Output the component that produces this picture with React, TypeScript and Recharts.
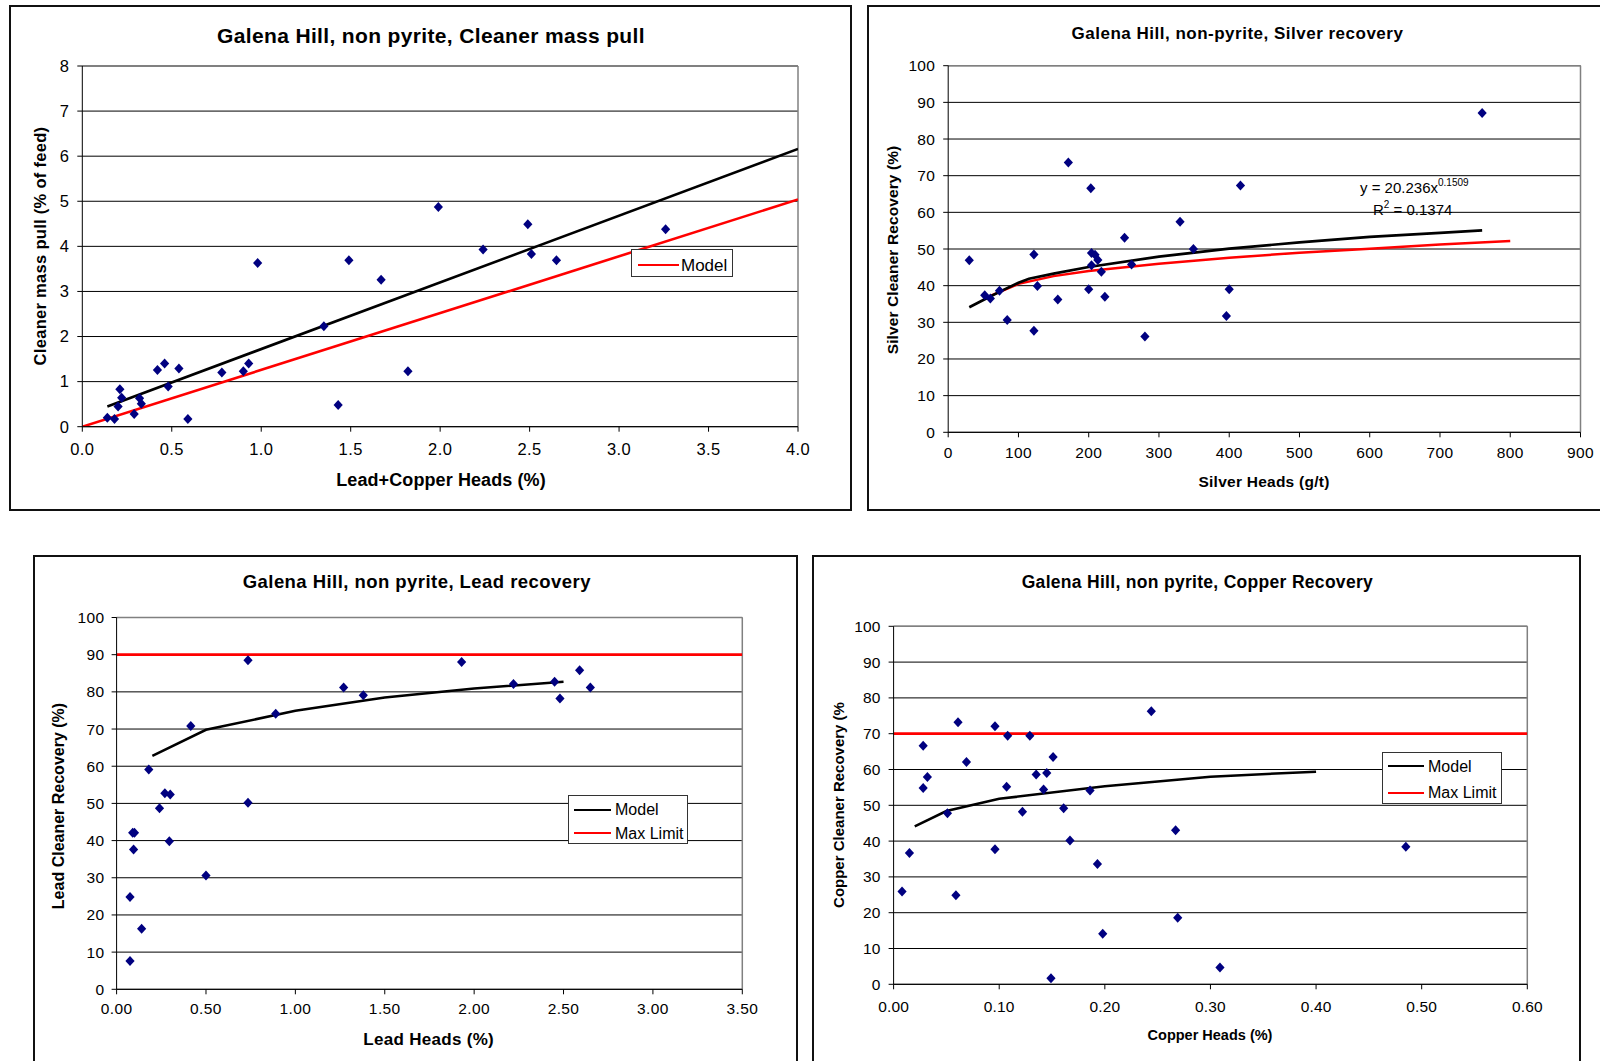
import React from 'react';
import { ComposedChart, Scatter, Line, XAxis, YAxis, CartesianGrid, ReferenceLine } from 'recharts';

const FONT = '"Liberation Sans", Arial, Helvetica, sans-serif';
const NAVY = '#000080';

// Cleaner mass pull vs Lead+Copper heads
const massHeads = [0.14, 0.18, 0.2, 0.21, 0.22, 0.29, 0.32, 0.33, 0.42, 0.46, 0.48, 0.54, 0.59, 0.78, 0.9, 0.93, 0.98, 1.35, 1.43, 1.49, 1.67, 1.82, 1.99, 2.24, 2.49, 2.51, 2.65, 3.26];
const massPull = [0.2, 0.17, 0.45, 0.83, 0.64, 0.28, 0.63, 0.51, 1.26, 1.4, 0.89, 1.29, 0.17, 1.2, 1.23, 1.4, 3.63, 2.23, 0.48, 3.69, 3.26, 1.23, 4.87, 3.93, 4.49, 3.83, 3.69, 4.38];
const massTrendX = [0.14, 4.0];
const massTrendY = [0.45, 6.16];
const massModelX = [0, 4.0];
const massModelY = [0, 5.04];
const massXTicks = [0, 0.5, 1, 1.5, 2, 2.5, 3, 3.5, 4];
const massYTicks = [0, 1, 2, 3, 4, 5, 6, 7, 8];

// Silver recovery vs silver heads
const agHeads = [30, 52, 60, 73, 84, 122, 122, 127, 156, 171, 200, 203, 204, 204, 209, 213, 218, 223, 251, 261, 280, 330, 349, 396, 400, 416, 760];
const agRec = [46.9, 37.4, 36.5, 38.6, 30.6, 48.5, 27.7, 39.9, 36.2, 73.6, 39.0, 66.6, 45.6, 48.9, 48.4, 47.0, 43.8, 37.0, 53.1, 45.8, 26.1, 57.4, 50.0, 31.7, 39.0, 67.3, 87.1];
const agTrendX = [30, 50, 75, 100, 115, 150, 200, 300, 400, 500, 600, 700, 760];
const agTrendY = [34.1, 36.1, 38.5, 40.8, 41.9, 43.3, 45.1, 47.9, 50.1, 51.8, 53.3, 54.4, 55.1];
const agModelX = [60, 100, 150, 200, 300, 400, 500, 600, 700, 800];
const agModelY = [37.2, 40.5, 42.6, 44.0, 46.0, 47.6, 49.0, 50.1, 51.2, 52.2];
const agXTicks = [0, 100, 200, 300, 400, 500, 600, 700, 800, 900];
const pctTicks = [0, 10, 20, 30, 40, 50, 60, 70, 80, 90, 100];

// Lead recovery vs lead heads
const pbHeads = [0.075, 0.075, 0.14, 0.09, 0.1, 0.095, 0.18, 0.24, 0.27, 0.3, 0.295, 0.415, 0.5, 0.735, 0.735, 0.89, 1.27, 1.38, 1.93, 2.22, 2.45, 2.48, 2.59, 2.65];
const pbRec = [7.6, 24.8, 16.3, 42.1, 42.1, 37.6, 59.1, 48.7, 52.7, 52.4, 39.8, 70.8, 30.6, 88.5, 50.2, 74.1, 81.2, 79.1, 88.0, 82.1, 82.7, 78.2, 85.8, 81.2];
const pbModelX = [0.2, 0.5, 1.0, 1.5, 2.0, 2.5];
const pbModelY = [62.8, 69.8, 74.9, 78.5, 80.9, 82.7];
const pbMaxX = [0, 3.5];
const pbMaxY = [90, 90];
const pbXTicks = [0, 0.5, 1, 1.5, 2, 2.5, 3, 3.5];

// Copper recovery vs copper heads
const cuHeads = [0.008, 0.015, 0.028, 0.028, 0.032, 0.051, 0.059, 0.061, 0.069, 0.096, 0.096, 0.107, 0.108, 0.122, 0.129, 0.135, 0.142, 0.145, 0.151, 0.149, 0.161, 0.167, 0.186, 0.193, 0.198, 0.244, 0.267, 0.269, 0.309, 0.485];
const cuRec = [25.9, 36.7, 66.6, 54.8, 57.9, 47.8, 24.9, 73.2, 62.1, 72.1, 37.7, 55.2, 69.4, 48.2, 69.4, 58.6, 54.4, 59.0, 63.5, 1.7, 49.2, 40.2, 54.1, 33.6, 14.1, 76.3, 43.0, 18.6, 4.7, 38.4];
const cuModelX = [0.02, 0.05, 0.1, 0.2, 0.3, 0.4];
const cuModelY = [44.1, 48.4, 51.8, 55.3, 58.0, 59.4];
const cuMaxX = [0, 0.6];
const cuMaxY = [70, 70];
const cuXTicks = [0, 0.1, 0.2, 0.3, 0.4, 0.5, 0.6];

const zip = (xs: number[], ys: number[]) => xs.map((x, i) => ({ x, y: ys[i] }));

const Diamond = (p: any) => {
  const { cx, cy } = p;
  if (cx == null || cy == null) return null;
  return <path d={`M${cx},${cy - 5}L${cx + 4.6},${cy}L${cx},${cy + 5}L${cx - 4.6},${cy}Z`} fill={NAVY} />;
};

const tick = (fs: number, ls: number, fmt: (v: number) => string, axis: 'x' | 'y') => (p: any) => (
  <text
    x={p.x}
    y={p.y}
    dy={axis === 'x' ? '0.71em' : '0.355em'}
    textAnchor={axis === 'x' ? 'middle' : 'end'}
    fontSize={fs}
    letterSpacing={ls}
    fontFamily={FONT}
    fill="#000"
  >
    {fmt(p.payload.value)}
  </text>
);

const int = (v: number) => String(v);
const f1 = (v: number) => v.toFixed(1);
const f2 = (v: number) => v.toFixed(2);

function Txt({ x, y, size, ls = 0, bold = true, rot = false, children }: any) {
  return (
    <div
      style={{
        position: 'absolute',
        left: x,
        top: y,
        transform: `translate(-50%, -50%)${rot ? ' rotate(-90deg)' : ''}`,
        fontSize: size,
        fontWeight: bold ? 'bold' : 'normal',
        letterSpacing: ls,
        whiteSpace: 'nowrap',
        lineHeight: 1,
        color: '#000',
      }}
    >
      {children}
    </div>
  );
}

function Box({ l, t, w, h }: any) {
  return <div style={{ position: 'absolute', left: l, top: t, width: w, height: h, border: '2px solid #111', boxSizing: 'border-box' }} />;
}

function LegendBox({ l, t, w, h, x0, x1, tx, fs, items }: any) {
  return (
    <div style={{ position: 'absolute', left: l, top: t, width: w, height: h, border: '1px solid #333', boxSizing: 'border-box', background: '#fff' }}>
      {items.map((it: any) => (
        <React.Fragment key={it.label}>
          <div style={{ position: 'absolute', left: x0 - l, top: it.y - t - 1.3, width: x1 - x0, height: 0, borderTop: `2.6px solid ${it.color}` }} />
          <div style={{ position: 'absolute', left: tx - l, top: it.y - t, transform: 'translateY(-50%)', fontSize: fs, lineHeight: 1, whiteSpace: 'nowrap' }}>{it.label}</div>
        </React.Fragment>
      ))}
    </div>
  );
}

function Panel({ sx, sy, sw, sh, margin, xDom, yDom, xTicks, yTicks, xFmt, fs, ls, xTm, yTm, children }: any) {
  return (
    <div style={{ position: 'absolute', left: sx, top: sy }}>
      <ComposedChart width={sw} height={sh} margin={margin}>
        <CartesianGrid horizontal vertical={false} stroke="#000" strokeWidth={1} />
        <ReferenceLine y={yDom[1]} stroke="#808080" strokeWidth={1.5} />
        <ReferenceLine x={xDom[1]} stroke="#808080" strokeWidth={1.5} />
        <XAxis
          type="number"
          dataKey="x"
          domain={xDom}
          ticks={xTicks}
          interval={0}
          allowDataOverflow
          height={40}
          tickSize={5}
          tickMargin={xTm}
          axisLine={{ stroke: '#000' }}
          tickLine={{ stroke: '#000' }}
          tick={tick(fs, ls, xFmt, 'x')}
        />
        <YAxis
          type="number"
          dataKey="y"
          domain={yDom}
          ticks={yTicks}
          interval={0}
          allowDataOverflow
          width={60}
          tickSize={5}
          tickMargin={yTm}
          axisLine={{ stroke: '#000' }}
          tickLine={{ stroke: '#000' }}
          tick={tick(fs, ls, int, 'y')}
        />
        {children}
      </ComposedChart>
    </div>
  );
}

export default function App() {
  return (
    <div style={{ position: 'absolute', left: 0, top: 0, width: 1600, height: 1061, overflow: 'hidden', background: '#fff', fontFamily: FONT }}>
      <Box l={9} t={5} w={843} h={506} />
      <Box l={867} t={5} w={760} h={506} />
      <Box l={33} t={555} w={765} h={540} />
      <Box l={812} t={555} w={769} h={540} />

      {/* Cleaner mass pull */}
      <Panel sx={9} sy={5} sw={843} sh={505} margin={{ top: 61, left: 13.3, right: 54, bottom: 43.3 }}
        xDom={[0, 4]} yDom={[0, 8]} xTicks={massXTicks} yTicks={massYTicks} xFmt={f1} fs={16.5} ls={0.4} xTm={12} yTm={8}>
        <Line data={zip(massModelX, massModelY)} dataKey="y" type="linear" stroke="#ff0000" strokeWidth={2.6} dot={false} activeDot={false} isAnimationActive={false} />
        <Scatter data={zip(massHeads, massPull)} shape={Diamond} isAnimationActive={false} />
        <Line data={zip(massTrendX, massTrendY)} dataKey="y" type="linear" stroke="#000" strokeWidth={2.6} dot={false} activeDot={false} isAnimationActive={false} />
      </Panel>

      {/* Silver recovery */}
      <Panel sx={867} sy={5} sw={733} sh={505} margin={{ top: 60.7, left: 21.2, right: 19.5, bottom: 37.7 }}
        xDom={[0, 900]} yDom={[0, 100]} xTicks={agXTicks} yTicks={pctTicks} xFmt={int} fs={15.5} ls={0.3} xTm={10} yTm={8}>
        <Line data={zip(agModelX, agModelY)} dataKey="y" type="linear" stroke="#ff0000" strokeWidth={2.5} dot={false} activeDot={false} isAnimationActive={false} />
        <Line data={zip(agTrendX, agTrendY)} dataKey="y" type="linear" stroke="#000" strokeWidth={2.7} dot={false} activeDot={false} isAnimationActive={false} />
        <Scatter data={zip(agHeads, agRec)} shape={Diamond} isAnimationActive={false} />
      </Panel>

      {/* Lead recovery */}
      <Panel sx={33} sy={555} sw={765} sh={506} margin={{ top: 62.5, left: 23.6, right: 55.7, bottom: 31.7 }}
        xDom={[0, 3.5]} yDom={[0, 100]} xTicks={pbXTicks} yTicks={pctTicks} xFmt={f2} fs={15.5} ls={0.4} xTm={9} yTm={7}>
        <Line data={zip(pbMaxX, pbMaxY)} dataKey="y" type="linear" stroke="#ff0000" strokeWidth={2.8} dot={false} activeDot={false} isAnimationActive={false} />
        <Line data={zip(pbModelX, pbModelY)} dataKey="y" type="linear" stroke="#000" strokeWidth={2.5} dot={false} activeDot={false} isAnimationActive={false} />
        <Scatter data={zip(pbHeads, pbRec)} shape={Diamond} isAnimationActive={false} />
      </Panel>

      {/* Copper recovery */}
      <Panel sx={812} sy={555} sw={768} sh={506} margin={{ top: 71.3, left: 21.6, right: 52.7, bottom: 36.7 }}
        xDom={[0, 0.6]} yDom={[0, 100]} xTicks={cuXTicks} yTicks={pctTicks} xFmt={f2} fs={15.5} ls={0.15} xTm={12} yTm={8}>
        <Line data={zip(cuMaxX, cuMaxY)} dataKey="y" type="linear" stroke="#ff0000" strokeWidth={2.8} dot={false} activeDot={false} isAnimationActive={false} />
        <Line data={zip(cuModelX, cuModelY)} dataKey="y" type="linear" stroke="#000" strokeWidth={2.5} dot={false} activeDot={false} isAnimationActive={false} />
        <Scatter data={zip(cuHeads, cuRec)} shape={Diamond} isAnimationActive={false} />
      </Panel>

      {/* titles and axis labels */}
      <Txt x={431} y={35} size={21} ls={0.35}>Galena Hill, non pyrite, Cleaner mass pull</Txt>
      <Txt x={441} y={480} size={18} ls={0.1}>Lead+Copper Heads (%)</Txt>
      <Txt x={39.5} y={246} size={16.5} ls={0.3} rot>Cleaner mass pull (% of feed)</Txt>

      <Txt x={1237.5} y={32.5} size={17} ls={0.5}>Galena Hill, non-pyrite, Silver recovery</Txt>
      <Txt x={1264} y={482} size={15.5} ls={0.25}>Silver Heads (g/t)</Txt>
      <Txt x={893} y={250} size={15.5} ls={0.1} rot>Silver Cleaner Recovery (%)</Txt>

      <Txt x={416.8} y={582} size={18.5} ls={0.45}>Galena Hill, non pyrite, Lead recovery</Txt>
      <Txt x={428.7} y={1039} size={17} ls={0.3}>Lead Heads (%)</Txt>
      <Txt x={59} y={806} size={16} rot>Lead Cleaner Recovery (%)</Txt>

      <Txt x={1197.4} y={583} size={17.5} ls={0.3}>Galena Hill, non pyrite, Copper Recovery</Txt>
      <Txt x={1210} y={1035} size={14.5}>Copper Heads (%)</Txt>
      <Txt x={838} y={804.5} size={15} rot>Copper Cleaner Recovery (%</Txt>

      {/* trendline equation */}
      <div style={{ position: 'absolute', left: 1360, top: 187, transform: 'translateY(-50%)', fontSize: 15, lineHeight: 1, whiteSpace: 'nowrap' }}>
        y = 20.236x<span style={{ fontSize: 10, position: 'relative', top: -7 }}>0.1509</span>
      </div>
      <div style={{ position: 'absolute', left: 1373, top: 209, transform: 'translateY(-50%)', fontSize: 15, lineHeight: 1, whiteSpace: 'nowrap' }}>
        R<span style={{ fontSize: 10, position: 'relative', top: -7 }}>2</span> = 0.1374
      </div>

      {/* legends */}
      <LegendBox l={631} t={249} w={102} h={28} x0={637} x1={677.5} tx={680} fs={17}
        items={[{ label: 'Model', color: '#ff0000', y: 264 }]} />
      <LegendBox l={568} t={795} w={120} h={49} x0={573} x1={610} tx={614} fs={16}
        items={[{ label: 'Model', color: '#000', y: 809 }, { label: 'Max Limit', color: '#ff0000', y: 832.5 }]} />
      <LegendBox l={1382} t={752} w={120} h={52} x0={1387} x1={1423} tx={1427} fs={16}
        items={[{ label: 'Model', color: '#000', y: 765.7 }, { label: 'Max Limit', color: '#ff0000', y: 792.3 }]} />
    </div>
  );
}
